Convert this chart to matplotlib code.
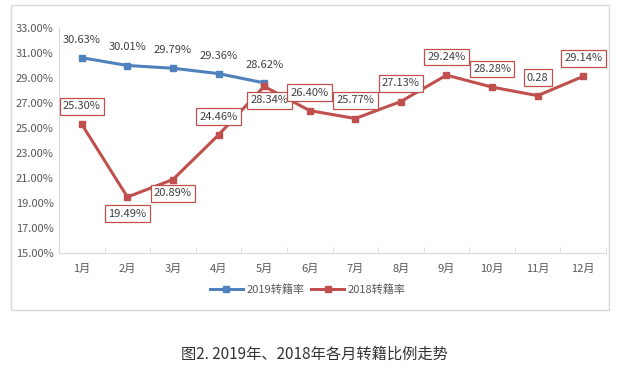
import numpy as np
import matplotlib
matplotlib.use("Agg")
import matplotlib.pyplot as plt
from matplotlib.patches import Rectangle

plt.rcParams['font.family'] = ['Noto Sans CJK SC', 'DejaVu Sans']

# --- 数据 ---
months = ['1月', '2月', '3月', '4月', '5月', '6月', '7月', '8月', '9月', '10月', '11月', '12月']
rate_2019 = [30.63, 30.01, 29.79, 29.36, 28.62]
rate_2018 = [25.30, 19.49, 20.89, 24.46, 28.34, 26.40, 25.77, 27.13, 29.24, 28.28, 27.60, 29.14]
labels_2019 = ['30.63%', '30.01%', '29.79%', '29.36%', '28.62%']
labels_2018 = ['25.30%', '19.49%', '20.89%', '24.46%', '28.34%', '26.40%', '25.77%',
               '27.13%', '29.24%', '28.28%', '0.28', '29.14%']
# 标签偏移(像素点): 2018 系列有的在上方，有的在下方
offsets_2018 = [(0, 13), (0, -12), (0, -10), (0, 13), (4, -10), (0, 13), (0, 13),
                (0, 13), (0, 13), (0, 13), (0, 13), (0, 13)]

blue = '#4F81BD'
red = '#C0504D'
grey_txt = '#595959'
axis_col = '#D9D9D9'

fig = plt.figure(figsize=(6.28, 3.75), dpi=100)
ax = fig.add_axes([0.094, 0.325, 0.871, 0.6])

x = np.arange(len(months))
ax.plot(x[:len(rate_2019)], rate_2019, color=blue, lw=2.2, marker='s', ms=5,
        label='2019转籍率', zorder=3)
ax.plot(x, rate_2018, color=red, lw=2.2, marker='s', ms=5,
        label='2018转籍率', zorder=3)

for xi, v, t in zip(x, rate_2019, labels_2019):
    ax.annotate(t, (xi, v), xytext=(0, 13), textcoords='offset points',
                ha='center', va='center', fontsize=8, color='#404040', zorder=5)

for xi, v, t, off in zip(x, rate_2018, labels_2018, offsets_2018):
    ax.annotate(t, (xi, v), xytext=off, textcoords='offset points',
                ha='center', va='center', fontsize=8, color='#404040', zorder=5,
                bbox=dict(boxstyle='square,pad=0.3', fc='white', ec=red, lw=0.9))

ax.set_xlim(-0.5, len(months) - 0.5)
ax.set_ylim(15, 33)
ax.set_yticks(np.arange(15, 34, 2))
ax.set_yticklabels([f'{v:.2f}%' for v in np.arange(15, 34, 2)])
ax.set_xticks(x)
ax.set_xticklabels(months)
ax.set_xticks(np.arange(-0.5, len(months), 1), minor=True)
ax.tick_params(axis='x', which='major', length=0, pad=8, labelsize=8, labelcolor=grey_txt)
ax.tick_params(axis='x', which='minor', length=4, direction='in', color=axis_col)
ax.tick_params(axis='y', length=0, pad=4, labelsize=8, labelcolor=grey_txt)

for s in ['top', 'right']:
    ax.spines[s].set_visible(False)
ax.spines['left'].set_color(axis_col)
ax.spines['bottom'].set_color(axis_col)

fig.legend(loc='center', bbox_to_anchor=(0.49, 0.227), ncol=2, frameon=False,
           fontsize=8, labelcolor=grey_txt, handlelength=3, columnspacing=0.6,
           handletextpad=0.3)

# 图表外框
fig.patches.append(Rectangle((0.0175, 0.173), 0.952, 0.813, transform=fig.transFigure,
                             fill=False, ec=axis_col, lw=1))

fig.text(0.5, 0.055, '图2. 2019年、2018年各月转籍比例走势', ha='center', va='center',
         fontsize=11, color='#333333')

plt.savefig('out.png', dpi=100)
